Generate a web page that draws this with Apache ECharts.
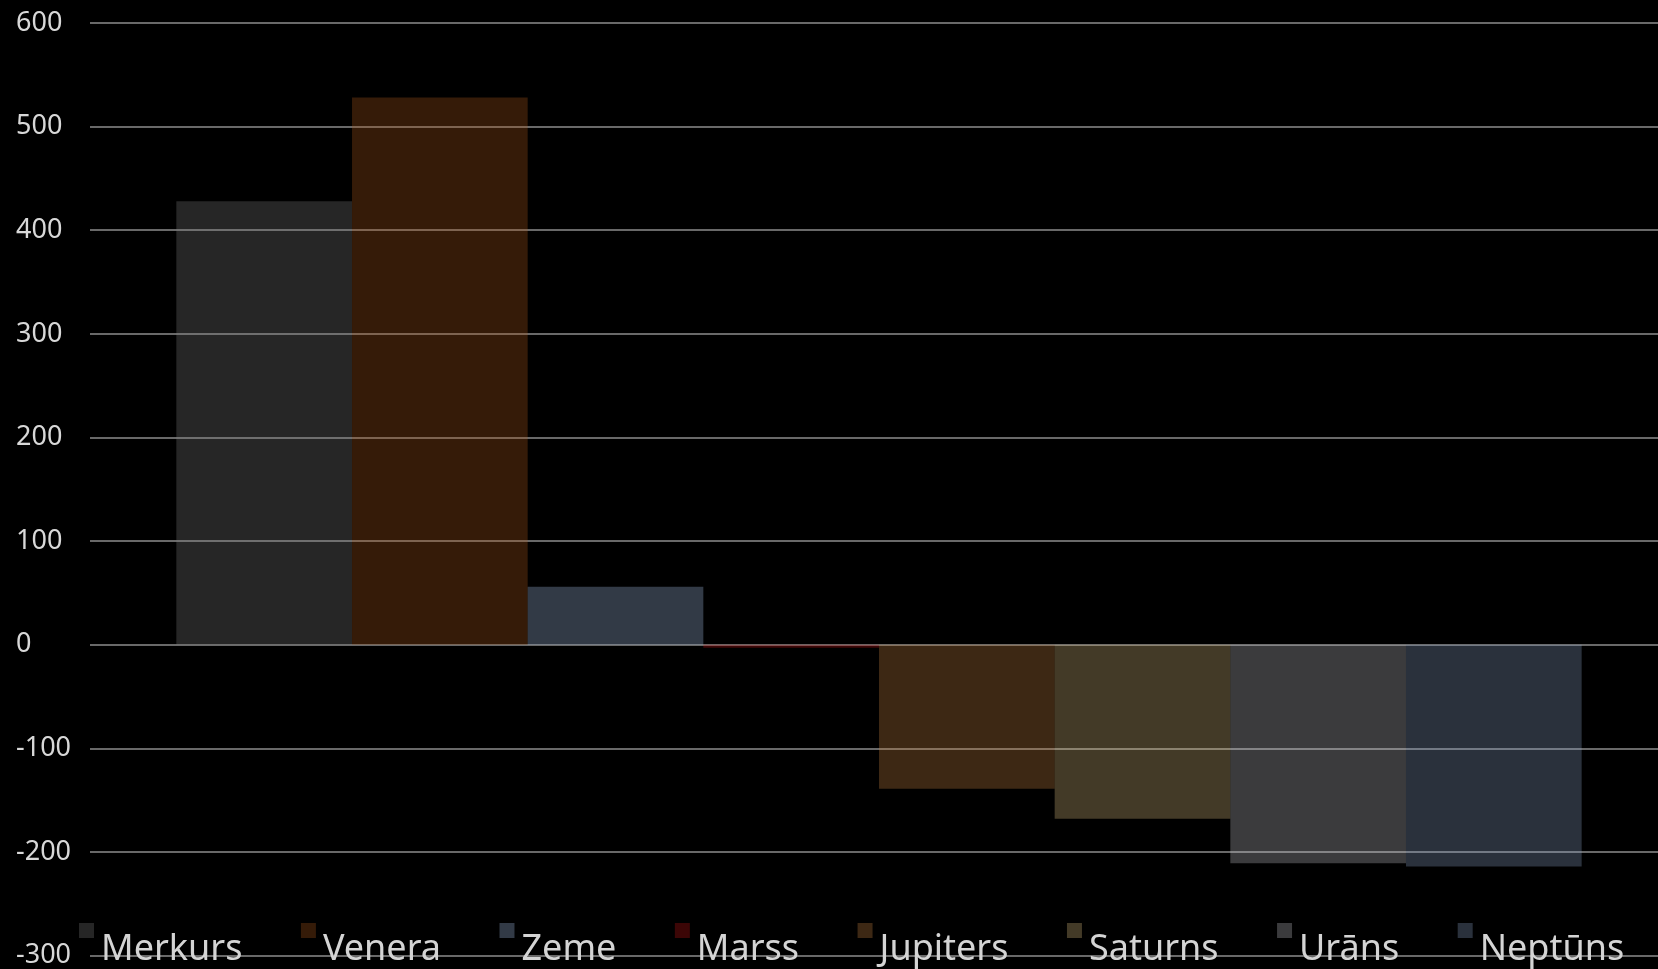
<!DOCTYPE html>
<html>
<head>
<meta charset="utf-8">
<script src="https://cdn.jsdelivr.net/npm/echarts@6/dist/echarts.min.js"></script>
<style>
html,body{margin:0;padding:0;background:#000;}
#chart{width:1658px;height:969px;}
</style>
</head>
<body>
<div id="chart"></div>
<script>
const seriesNames = ['Merkurs','Venera','Zeme','Marss','Jupiters','Saturns','Urāns','Neptūns'];
const seriesValues = [428, 528, 56, -3, -139, -168, -211, -214];
const seriesColors = [
  'rgba(125,125,125,0.3)',
  'rgba(175,90,25,0.3)',
  'rgba(167,193,233,0.3)',
  'rgba(200,20,20,0.3)',
  'rgba(203,133,67,0.3)',
  'rgba(223,193,130,0.3)',
  'rgba(197,197,203,0.3)',
  'rgba(140,163,200,0.3)'
];
const yTicks = {min: -300, max: 600, interval: 100};

const gridLine = {color: '#8c8c8c', width: 1.5};

const chart = echarts.init(document.getElementById('chart'));
const series = seriesNames.map((name, i) => ({
  name: name,
  type: 'bar',
  data: [seriesValues[i]],
  barGap: '0%',
  barCategoryGap: '9.8%',
  itemStyle: {color: seriesColors[i]}
}));

chart.setOption({
  backgroundColor: '#000',
  animation: false,
  grid: {left: 100, right: 0, top: 23, bottom: 13, containLabel: false},
  legend: {
    data: seriesNames,
    left: 79,
    top: 923,
    padding: 0,
    itemWidth: 15,
    itemHeight: 15,
    itemGap: 58.5,
    icon: 'rect',
    formatter: '{t|{name}}',
    textStyle: {
      color: '#d4d4d4',
      fontFamily: 'Noto Sans',
      fontSize: 36,
      rich: {
        t: {
          color: '#d4d4d4',
          fontFamily: 'Noto Sans',
          fontSize: 36,
          padding: [38, 0, 0, 2]
        }
      }
    }
  },
  xAxis: {
    type: 'category',
    data: [''],
    show: false
  },
  yAxis: {
    type: 'value',
    min: yTicks.min,
    max: yTicks.max,
    interval: yTicks.interval,
    axisLine: {show: false},
    axisTick: {show: true, length: 10, lineStyle: gridLine},
    axisLabel: {
      color: '#d8d8d8',
      fontFamily: 'Noto Sans',
      fontSize: 27,
      align: 'left',
      margin: 84
    },
    splitLine: {lineStyle: gridLine}
  },
  series: series
});
</script>
</body>
</html>
